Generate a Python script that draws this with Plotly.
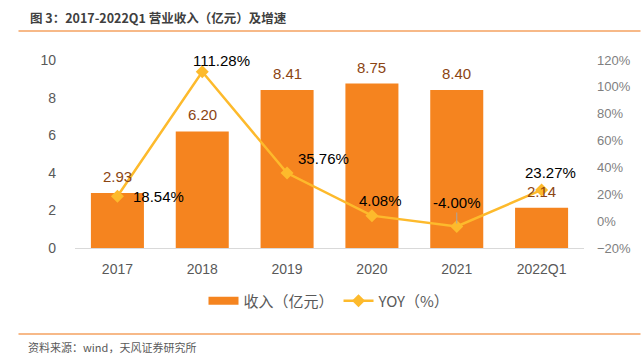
import plotly.graph_objects as go

categories = ["2017", "2018", "2019", "2020", "2021", "2022Q1"]
revenue = [2.93, 6.20, 8.41, 8.75, 8.40, 2.14]
yoy = [18.54, 111.28, 35.76, 4.08, -4.00, 23.27]
revenue_labels = ["2.93", "6.20", "8.41", "8.75", "8.40", "2.14"]
yoy_labels = ["18.54%", "111.28%", "35.76%", "4.08%", "-4.00%", "23.27%"]

# label offsets (pixels) for the YOY labels
yoy_xshift = [14, 19, 36, 9, 0, 9]
yoy_yshift = [0, 11, 15, 15, 24, 17]
yoy_xanchor = ["left", "center", "center", "center", "center", "center"]
yoy_leader = [False, False, False, False, True, False]

xs = list(range(len(categories)))

BAR = "#F5841F"
LINE = "#FDBA2C"
BROWN = "#8B4513"
FONT = "Liberation Sans, Arial, Noto Sans CJK SC"
CJK = "Noto Sans CJK SC, Liberation Sans"

fig = go.Figure()
fig.add_trace(go.Bar(x=xs, y=revenue, marker=dict(color=BAR, line=dict(width=0)),
                     width=0.625, showlegend=False, yaxis="y"))
# legend proxy for the bar (wide rectangle)
fig.add_trace(go.Scatter(x=xs, y=[None] * len(xs), mode="lines", name="收入（亿元）",
                         line=dict(color=BAR, width=8), yaxis="y", hoverinfo="skip"))
fig.add_trace(go.Scatter(x=xs, y=yoy, mode="lines+markers", name="YOY（%）",
                         line=dict(color=LINE, width=2.5),
                         marker=dict(symbol="diamond", size=10, color=LINE),
                         yaxis="y2"))

ann = []
for x, v, t in zip(xs, revenue, revenue_labels):
    ann.append(dict(x=x, y=v, xref="x", yref="y", text=t, showarrow=False,
                    yanchor="bottom", yshift=6, font=dict(family=FONT, size=15, color=BROWN)))
for x, v, t, xsh, ysh, xa, ld in zip(xs, yoy, yoy_labels, yoy_xshift, yoy_yshift,
                                      yoy_xanchor, yoy_leader):
    if ld:
        ann.append(dict(x=x, y=v, xref="x", yref="y2", text=t, showarrow=True,
                        arrowhead=0, arrowwidth=1, arrowcolor="#A6A6A6", ax=0, ay=-ysh,
                        standoff=3, font=dict(family=FONT, size=15, color="#000000")))
    else:
        ann.append(dict(x=x, y=v, xref="x", yref="y2", text=t, showarrow=False,
                        xanchor=xa, yanchor="middle", xshift=xsh, yshift=ysh,
                        font=dict(family=FONT, size=15, color="#000000")))

ann.append(dict(x=-0.092, y=1.225, xref="paper", yref="paper", xanchor="left", yanchor="middle",
                text="<b>图 3：2017-2022Q1 营业收入（亿元）及增速</b>", showarrow=False,
                font=dict(family=CJK, size=12.5, color="#404040")))
ann.append(dict(x=-0.096, y=-0.527, xref="paper", yref="paper", xanchor="left", yanchor="middle",
                text="资料来源：wind，天风证券研究所", showarrow=False,
                font=dict(family=CJK, size=11, color="#595959")))

shapes = [
    dict(type="line", xref="paper", yref="paper", x0=-0.111, x1=1.111, y0=1.154, y1=1.154,
         line=dict(color="#F4A261", width=1.5)),
    dict(type="line", xref="paper", yref="paper", x0=-0.111, x1=1.111, y0=-0.457, y1=-0.457,
         line=dict(color="#F4A261", width=1.5)),
]

fig.update_layout(
    width=643, height=359,
    margin=dict(l=75, r=59, t=60, b=111, autoexpand=False),
    paper_bgcolor="white", plot_bgcolor="white",
    font=dict(family=FONT, color="#595959"),
    xaxis=dict(range=[-0.5, len(xs) - 0.5], tickvals=xs, ticktext=categories,
               showline=True, linecolor="#D9D9D9", linewidth=1, zeroline=False,
               ticks="", tickfont=dict(size=14, color="#595959"), ticklabelstandoff=8,
               showgrid=False),
    yaxis=dict(range=[0, 10], dtick=2, showgrid=False, zeroline=False, showline=False,
               tickfont=dict(size=14, color="#595959"), ticklabelstandoff=18),
    yaxis2=dict(range=[-20, 120], dtick=20, overlaying="y", side="right", showgrid=False,
                zeroline=False, showline=False, ticksuffix="%",
                tickfont=dict(size=13, color="#7F7F7F"), ticklabelstandoff=12),
    legend=dict(orientation="h", x=0.5, xanchor="center", y=-0.282, yanchor="middle",
                font=dict(family=CJK, size=15, color="#595959"), itemwidth=30,
                traceorder="normal"),
    annotations=ann, shapes=shapes,
)

fig.write_html("out.html", config={"displayModeBar": False})
with open("out.html", "r", encoding="utf-8") as f:
    html = f.read()
html = html.replace("<head>", "<head><style>html,body{margin:0;padding:0;}</style>", 1)
with open("out.html", "w", encoding="utf-8") as f:
    f.write(html)
